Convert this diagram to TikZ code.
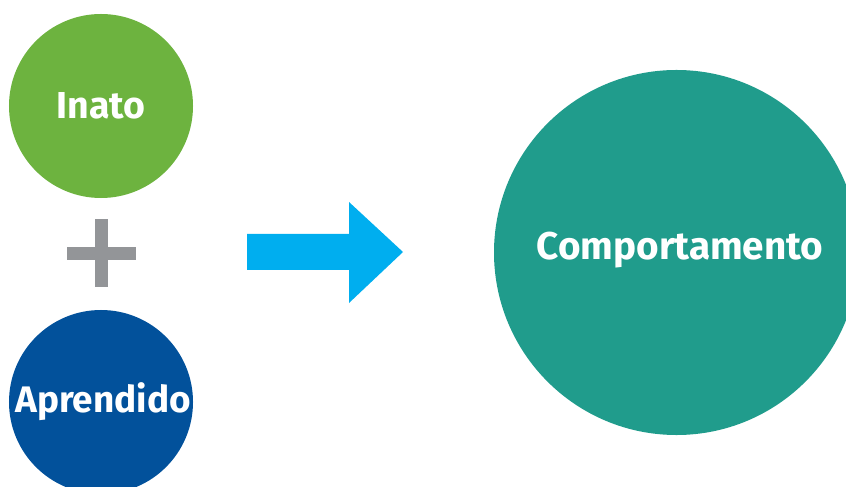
\documentclass[tikz,border=0pt]{standalone}
\usepackage{fontspec}
\setmainfont{Fira Sans}
\usepackage{tikz}
\definecolor{inatogreen}{HTML}{6DB33F}
\definecolor{aprendblue}{HTML}{02519B}
\definecolor{comptteal}{HTML}{209C8C}
\definecolor{arrowblue}{HTML}{00AEEF}
\definecolor{plusgray}{HTML}{939598}
\tikzset{bubble/.style={circle, inner sep=0pt},
  bubbletext/.style={inner sep=0pt, text=white,
    font=\fontsize{32}{38}\selectfont\bfseries}}

\begin{document}
\begin{tikzpicture}[x=0.03cm, y=-0.03cm]
  \clip (0,0) rectangle (846,487);

  % inputs
  \node[bubble, fill=inatogreen, minimum size=5.52cm] (inato) at (101,106) {};
  \node[bubbletext] (inatolabel) at (inato.center) {Inato};
  \node[bubble, fill=aprendblue, minimum size=5.52cm] (aprendido) at (101,402) {};
  \node[bubbletext, font=\fontsize{31.5}{38}\selectfont\bfseries] (aprendlabel) at (103,402) {Aprendido};

  % plus
  \fill[plusgray] (67,247) rectangle (136,260);
  \fill[plusgray] (95,219) rectangle (108,287);

  % arrow
  \fill[arrowblue] (247,234) -- (349,234) -- (349,202) -- (403,252)
    -- (349,303) -- (349,270) -- (247,270) -- cycle;

  % result
  \node[bubble, fill=comptteal, minimum size=10.95cm] (comportamento) at (676.5,252.5) {};
  \node[bubbletext, font=\fontsize{33}{38}\selectfont\bfseries] (comptlabel) at (680,250) {Comportamento};
\end{tikzpicture}
\end{document}
